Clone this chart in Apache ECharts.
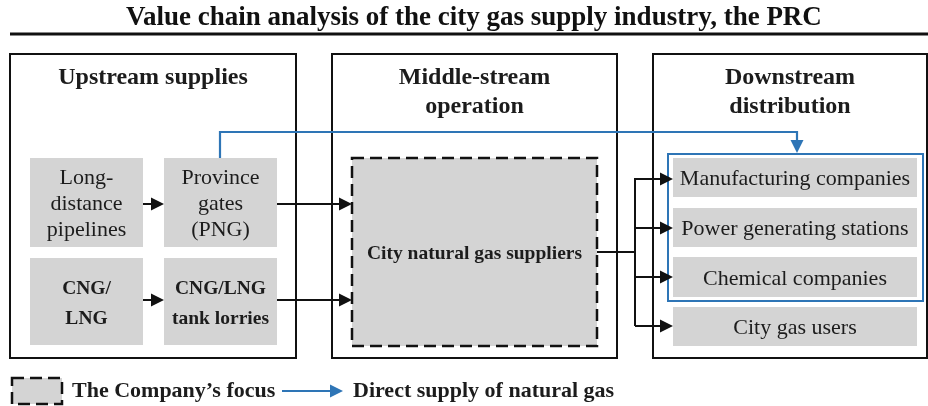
<!DOCTYPE html>
<html>
<head>
<meta charset="utf-8">
<script src="https://cdn.jsdelivr.net/npm/echarts@6/dist/echarts.min.js"></script>
<style>
  html, body { margin: 0; padding: 0; background: #fff; }
  #chart { width: 928px; height: 406px; }
</style>
</head>
<body>
<div id="chart"></div>
<script>
// 标题
const titleText = 'Value chain analysis of the city gas supply industry, the PRC';

// 三个大框（x0, y0, x1, y1，图内坐标）
const panelBoxes = [[10, 54, 296, 358], [332, 54, 617, 358], [653, 54, 927, 358]];
const panelTitles = ['Upstream supplies', 'Middle-stream\noperation', 'Downstream\ndistribution'];
const panelTitleY = [78, 92, 92];

// 灰色节点
const nodeBoxes = [
  [30, 158, 143, 247], [164, 158, 277, 247],
  [30, 258, 143, 345], [164, 258, 277, 345],
  [673, 158, 917, 197], [673, 208, 917, 247],
  [673, 257, 917, 297], [673, 307, 917, 346]
];
const nodeLabels = [
  'Long-\ndistance\npipelines', 'Province\ngates\n(PNG)',
  'CNG/\nLNG', 'CNG/LNG\ntank lorries',
  'Manufacturing companies', 'Power generating stations',
  'Chemical companies', 'City gas users'
];
const nodeBold = [false, false, true, true, false, false, false, false];

// 公司重点（虚线框）
const focusBox = [[352, 158, 597, 346]];
const focusLabel = 'City natural gas suppliers';

// 直供蓝框
const directBox = [[668, 154, 923, 301]];

// 连线：折线点 + 是否带箭头 + 颜色类型
const linkPaths = [
  [[143, 204], [164, 204]],
  [[143, 300], [164, 300]],
  [[277, 204], [352, 204]],
  [[277, 300], [352, 300]],
  [[597, 252], [635, 252]],
  [[635, 178], [635, 326]],
  [[635, 179], [673, 179]],
  [[635, 228], [673, 228]],
  [[635, 277], [673, 277]],
  [[635, 326], [673, 326]],
  [[220, 158], [220, 132], [797, 132], [797, 153]],
  [[282, 391], [343, 391]]
];
const linkArrow = [true, true, true, true, false, false, true, true, true, true, true, true];
const linkBlue = [false, false, false, false, false, false, false, false, false, false, true, true];

// 图例
const legendBox = [[12, 378, 62, 404]];
const legendTexts = ['The Company\u2019s focus', 'Direct supply of natural gas'];
const legendTextPos = [[72, 391], [353, 391]];

const SERIF = '"Liberation Serif", "Times New Roman", serif';
const GRAY = '#d4d4d4';
const BLUE = '#2e75b6';
const INK = '#1c1c1c';

const chart = echarts.init(document.getElementById('chart'));

// 矩形 + 文字
function boxRender(opt) {
  return function (params, api) {
    const p0 = api.coord([api.value(0), api.value(1)]);
    const p1 = api.coord([api.value(2), api.value(3)]);
    const children = [{
      type: 'rect',
      shape: { x: p0[0], y: p0[1], width: p1[0] - p0[0], height: p1[1] - p0[1] },
      style: { fill: opt.fill, stroke: opt.stroke, lineWidth: opt.lineWidth, lineDash: opt.dash || null }
    }];
    const label = opt.label ? opt.label(params.dataIndex) : null;
    if (label) {
      const ty = opt.textY ? api.coord([0, opt.textY(params.dataIndex)])[1] : (p0[1] + p1[1]) / 2 + 2;
      children.push({
        type: 'text',
        style: {
          text: label,
          x: (p0[0] + p1[0]) / 2,
          y: ty,
          align: 'center',
          verticalAlign: 'middle',
          font: opt.font(params.dataIndex),
          lineHeight: opt.lineHeight(params.dataIndex),
          fill: INK
        }
      });
    }
    return { type: 'group', children: children };
  };
}

// 折线 + 箭头
function linkRender(params, api) {
  const i = params.dataIndex;
  const pts = linkPaths[i].map(function (p) { return api.coord(p); });
  const color = linkBlue[i] ? BLUE : '#111';
  const children = [];
  if (linkArrow[i]) {
    const a = pts[pts.length - 2], b = pts[pts.length - 1];
    const dx = b[0] - a[0], dy = b[1] - a[1];
    const len = Math.sqrt(dx * dx + dy * dy);
    const ux = dx / len, uy = dy / len;
    const hl = 13, hw = 6.5;
    const bx = b[0] - ux * hl, by = b[1] - uy * hl;
    pts[pts.length - 1] = [bx + ux * 1, by + uy * 1];
    children.push({
      type: 'polygon',
      shape: { points: [[b[0], b[1]], [bx - uy * hw, by + ux * hw], [bx + uy * hw, by - ux * hw]] },
      style: { fill: color }
    });
  }
  children.unshift({
    type: 'polyline',
    shape: { points: pts },
    style: { stroke: color, lineWidth: linkBlue[i] ? 2.2 : 2, fill: null }
  });
  return { type: 'group', children: children };
}

function textRender(texts, font) {
  return function (params, api) {
    const p = api.coord([api.value(0), api.value(1)]);
    return {
      type: 'text',
      style: { text: texts[params.dataIndex], x: p[0], y: p[1], align: 'left', verticalAlign: 'middle', font: font, fill: INK }
    };
  };
}

const option = {
  animation: false,
  title: {
    text: titleText,
    left: 126,
    top: 5,
    padding: 0,
    textStyle: { fontFamily: SERIF, fontSize: 27, fontWeight: 'bold', color: '#111' }
  },
  grid: { left: 0, right: 0, top: 0, bottom: 0 },
  xAxis: { type: 'value', min: 0, max: 928, show: false },
  yAxis: { type: 'value', min: 0, max: 406, inverse: true, show: false },
  series: [
    {
      // 标题下划线
      type: 'custom',
      data: [[10, 34, 928, 34]],
      renderItem: function (params, api) {
        const a = api.coord([api.value(0), api.value(1)]);
        const b = api.coord([api.value(2), api.value(3)]);
        return { type: 'line', shape: { x1: a[0], y1: a[1], x2: b[0], y2: b[1] }, style: { stroke: '#111', lineWidth: 3 } };
      }
    },
    {
      type: 'custom',
      data: panelBoxes,
      renderItem: boxRender({
        fill: '#fff', stroke: '#111', lineWidth: 2,
        label: function (i) { return panelTitles[i]; },
        textY: function (i) { return panelTitleY[i]; },
        font: function () { return 'bold 24px ' + SERIF; },
        lineHeight: function () { return 29; }
      })
    },
    {
      type: 'custom',
      data: directBox,
      renderItem: boxRender({ fill: '#fff', stroke: BLUE, lineWidth: 2 })
    },
    {
      type: 'custom',
      data: nodeBoxes,
      renderItem: boxRender({
        fill: GRAY, stroke: null, lineWidth: 0,
        label: function (i) { return nodeLabels[i]; },
        font: function (i) { return nodeBold[i] ? 'bold 19.5px ' + SERIF : '22px ' + SERIF; },
        lineHeight: function (i) { return nodeBold[i] ? 30 : 26; }
      })
    },
    {
      type: 'custom',
      data: focusBox,
      renderItem: boxRender({
        fill: GRAY, stroke: '#111', lineWidth: 2.5, dash: [12, 6],
        label: function () { return focusLabel; },
        font: function () { return 'bold 19.5px ' + SERIF; },
        lineHeight: function () { return 24; }
      })
    },
    {
      type: 'custom',
      data: linkPaths.map(function (p) { return p[0]; }),
      renderItem: linkRender
    },
    {
      type: 'custom',
      data: legendBox,
      renderItem: boxRender({ fill: GRAY, stroke: '#111', lineWidth: 2.5, dash: [12, 6] })
    },
    {
      type: 'custom',
      data: legendTextPos,
      renderItem: textRender(legendTexts, 'bold 22px ' + SERIF)
    }
  ]
};

chart.setOption(option);
window.addEventListener('resize', function () { chart.resize(); });
</script>
</body>
</html>
